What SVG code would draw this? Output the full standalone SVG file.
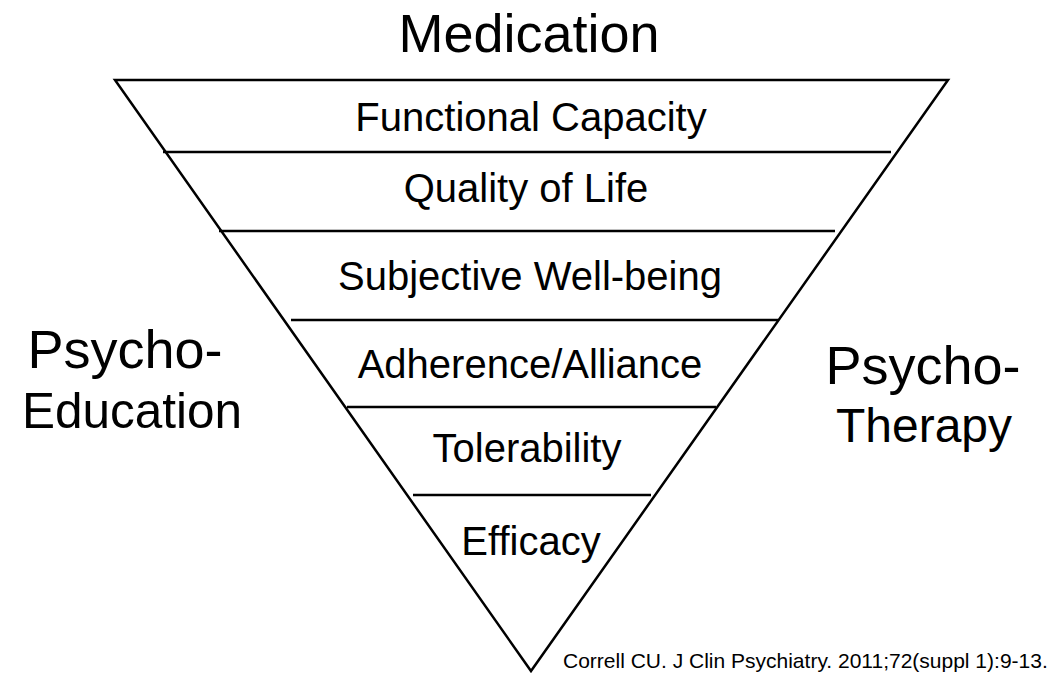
<svg xmlns="http://www.w3.org/2000/svg" width="1060" height="681" viewBox="0 0 1060 681">
  <style>
    .t { font-family: "Liberation Sans", Arial, sans-serif; fill: #000; text-anchor: middle; }
    .big { font-size: 54px; }
    .lvl { font-size: 40px; }
    .cite { font-family: "Liberation Sans", Arial, sans-serif; font-size: 21px; fill: #000; }
    .edge { stroke: #000; stroke-width: 2.5; fill: none; stroke-linejoin: miter; }
    .div { stroke: #000; stroke-width: 2.5; }
  </style>
  <rect width="1060" height="681" fill="#fff"/>

  <g id="pyramid">
    <polygon class="edge" points="115,80 948,80 531,671"/>
  </g>

  <g id="dividers">
    <line class="div" x1="163" y1="152" x2="891" y2="152"/>
    <line class="div" x1="219" y1="231" x2="835" y2="231"/>
    <line class="div" x1="291" y1="320" x2="778" y2="320"/>
    <line class="div" x1="347" y1="407" x2="716" y2="407"/>
    <line class="div" x1="413" y1="495" x2="651" y2="495"/>
  </g>

  <g id="medication"><text class="t big" x="529" y="52">Medication</text></g>
  <g id="functional-capacity"><text class="t lvl" x="531" y="131">Functional Capacity</text></g>
  <g id="quality-of-life"><text class="t lvl" x="526" y="202">Quality of Life</text></g>
  <g id="subjective-well-being"><text class="t lvl" x="530" y="290">Subjective Well-being</text></g>
  <g id="adherence-alliance"><text class="t lvl" x="530" y="378">Adherence/Alliance</text></g>
  <g id="tolerability"><text class="t lvl" x="527" y="462">Tolerability</text></g>
  <g id="efficacy"><text class="t lvl" x="531" y="555">Efficacy</text></g>

  <g id="psycho-education">
    <text class="t big" x="125" y="368">Psycho-</text>
    <text class="t big" x="132" y="428" style="font-size:49.5px">Education</text>
  </g>
  <g id="psycho-therapy">
    <text class="t big" x="923" y="384">Psycho-</text>
    <text class="t big" x="924" y="442" style="font-size:48px">Therapy</text>
  </g>

  <g id="citation">
    <text class="cite" x="563" y="668">Correll CU. J Clin Psychiatry. 2011;72(suppl 1):9-13.</text>
  </g>
</svg>
